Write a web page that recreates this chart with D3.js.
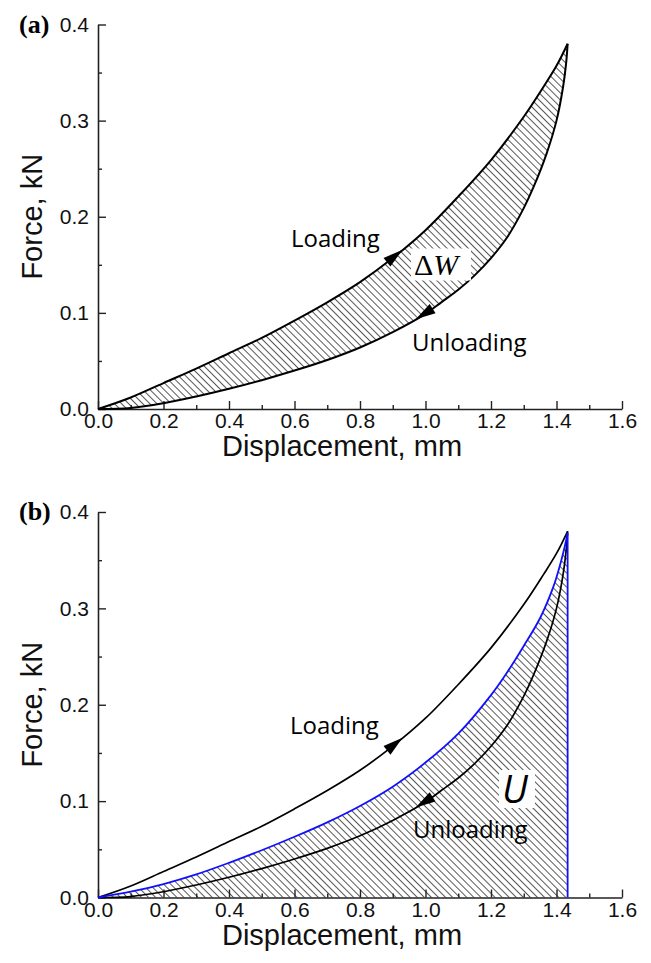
<!DOCTYPE html>
<html>
<head>
<meta charset="utf-8">
<script src="https://cdn.jsdelivr.net/npm/d3@7"></script>
<style>
  body { margin: 0; background: #fff; }
  svg { display: block; }
  .tick text { font-family: "Liberation Sans", Arial, sans-serif; font-size: 21px; fill: #111; }
</style>
</head>
<body>
<svg id="chart" width="651" height="963"></svg>
<script>
// Loading branch (displacement mm, force kN)
const loadX = [0, 0.1, 0.2, 0.3, 0.4, 0.5, 0.6, 0.7, 0.8, 0.9, 1.0, 1.1, 1.2, 1.3, 1.36, 1.4, 1.434];
const loadF = [0, 0.012, 0.027, 0.042, 0.058, 0.074, 0.092, 0.111, 0.132, 0.157, 0.186, 0.221, 0.259, 0.304, 0.335, 0.357, 0.38];

// Unloading branch, listed from low to high displacement
const unloadX = [0, 0.1, 0.2, 0.3, 0.4, 0.5, 0.6, 0.7, 0.8, 0.9, 1.0, 1.05, 1.1, 1.15, 1.2, 1.25, 1.3, 1.33, 1.37, 1.40, 1.42, 1.43, 1.434];
const unloadF = [0, 0.001, 0.006, 0.013, 0.021, 0.030, 0.040, 0.051, 0.064, 0.080, 0.099, 0.1115, 0.124, 0.139, 0.157, 0.179, 0.209, 0.231, 0.266, 0.30, 0.335, 0.362, 0.38];

// Elastic (recoverable) curve bounding the strain energy U
const elasticX = [0, 0.1, 0.2, 0.3, 0.4, 0.5, 0.6, 0.7, 0.8, 0.9, 1.0, 1.1, 1.2, 1.25, 1.3, 1.35, 1.39, 1.41, 1.425, 1.434];
const elasticF = [0, 0.006, 0.014, 0.024, 0.036, 0.049, 0.063, 0.078, 0.095, 0.115, 0.140, 0.170, 0.210, 0.234, 0.261, 0.29, 0.322, 0.344, 0.364, 0.378];

const xTicks = [0, 0.2, 0.4, 0.6, 0.8, 1.0, 1.2, 1.4, 1.6];
const xMinor = [0.1, 0.3, 0.5, 0.7, 0.9, 1.1, 1.3, 1.5];
const yTicks = [0, 0.1, 0.2, 0.3, 0.4];
const yMinor = [0.05, 0.15, 0.25, 0.35];
const panelTags = ["(a)", "(b)"];
const xTitle = "Displacement, mm";
const yTitle = "Force, kN";

const svg = d3.select("#chart");
const defs = svg.append("defs");

// diagonal "\" hatching
defs.append("pattern")
  .attr("id", "hatch")
  .attr("patternUnits", "userSpaceOnUse")
  .attr("width", 5).attr("height", 5)
  .attr("patternTransform", "rotate(-45)")
  .append("line")
  .attr("x1", 0.5).attr("y1", 0).attr("x2", 0.5).attr("y2", 5)
  .attr("stroke", "#3a3a3a").attr("stroke-width", 0.85);

const x = d3.scaleLinear().domain([0, 1.6]).range([98, 622]);

const pts = (xs, fs) => xs.map((d, i) => [d, fs[i]]);
const loading = pts(loadX, loadF);
const unloading = pts(unloadX, unloadF);
const elastic = pts(elasticX, elasticF);

function interp(xs, fs, v) {
  for (let i = 1; i < xs.length; i++) {
    if (v <= xs[i]) {
      const t = (v - xs[i - 1]) / (xs[i] - xs[i - 1]);
      return fs[i - 1] + t * (fs[i] - fs[i - 1]);
    }
  }
  return fs[fs.length - 1];
}

const sans = '"Open Sans", "Noto Sans", sans-serif';
const arial = '"Liberation Sans", Arial, sans-serif';
const serif = '"Liberation Serif", "Times New Roman", serif';

function drawPanel(y0, y4, tag, variant) {
  const y = d3.scaleLinear().domain([0, 0.4]).range([y0, y4]);
  const g = svg.append("g");
  const line = d3.line().x(d => x(d[0])).y(d => y(d[1])).curve(d3.curveCatmullRom.alpha(0.5));

  // hatched region
  if (variant === "a") {
    const rev = unloading.slice().reverse();
    const d = line(loading) + "L" + line(rev).slice(1) + "Z";
    g.append("path").attr("d", d).attr("fill", "url(#hatch)").attr("stroke", "none");
  } else {
    const last = elastic[elastic.length - 1];
    const d = line(elastic) + "L" + x(last[0]) + "," + y(0) + "L" + x(0) + "," + y(0) + "Z";
    g.append("path").attr("d", d).attr("fill", "url(#hatch)").attr("stroke", "none");
  }

  // axes
  const ax = g.append("g").attr("transform", `translate(0,${y0})`)
    .call(d3.axisBottom(x).tickValues(xTicks).tickFormat(d3.format(".1f"))
      .tickSizeInner(-8).tickSizeOuter(0).tickPadding(4));
  g.append("g").attr("transform", `translate(0,${y0})`)
    .call(d3.axisBottom(x).tickValues(xMinor).tickFormat("").tickSizeInner(-4).tickSizeOuter(0))
    .select(".domain").remove();
  g.append("g").attr("transform", `translate(${x(0)},0)`)
    .call(d3.axisLeft(y).tickValues(yTicks).tickFormat(d3.format(".1f"))
      .tickSizeInner(-8).tickSizeOuter(0).tickPadding(9));
  g.append("g").attr("transform", `translate(${x(0)},0)`)
    .call(d3.axisLeft(y).tickValues(yMinor).tickFormat("").tickSizeInner(-4).tickSizeOuter(0))
    .select(".domain").remove();
  g.selectAll(".domain").attr("stroke", "#222").attr("stroke-width", 1.6);
  g.selectAll(".tick line").attr("stroke", "#222").attr("stroke-width", 1.4);
  ax.selectAll(".tick text").attr("dy", "0.72em");

  // curves
  const sw = variant === "a" ? 2 : 1.7;
  g.append("path").attr("d", line(loading)).attr("fill", "none").attr("stroke", "#000").attr("stroke-width", sw);
  g.append("path").attr("d", line(unloading)).attr("fill", "none").attr("stroke", "#000").attr("stroke-width", sw);
  if (variant === "b") {
    g.append("path").attr("d", line(elastic)).attr("fill", "none").attr("stroke", "#1010ff").attr("stroke-width", 1.8);
    const last = elastic[elastic.length - 1];
    g.append("line").attr("x1", x(last[0])).attr("x2", x(last[0]))
      .attr("y1", y(last[1])).attr("y2", y(0))
      .attr("stroke", "#1010ff").attr("stroke-width", 1.8);
  }

  // direction arrows
  function arrow(xs, fs, tipX, dir) {
    const px = x(tipX), py = y(interp(xs, fs, tipX));
    const bx = x(tipX - dir * 0.05), by = y(interp(xs, fs, tipX - dir * 0.05));
    const ang = Math.atan2(py - by, px - bx);
    const L = 20, W = 5.5;
    const cx = px - L * Math.cos(ang), cy = py - L * Math.sin(ang);
    const nx = -Math.sin(ang), ny = Math.cos(ang);
    g.append("path")
      .attr("d", `M${px},${py}L${cx + W * nx},${cy + W * ny}L${cx - W * nx},${cy - W * ny}Z`)
      .attr("fill", "#000");
  }
  arrow(loadX, loadF, 0.93, 1);
  arrow(unloadX, unloadF, 0.97, -1);

  // annotations
  if (variant === "a") {
    g.append("text").attr("x", 291).attr("y", y(0.4) + 222).attr("font-family", sans).attr("font-size", 24).text("Loading");
    g.append("rect").attr("x", 411).attr("y", y(0.4) + 224).attr("width", 60).attr("height", 32).attr("fill", "#fff");
    const t = g.append("text").attr("x", 414).attr("y", y(0.4) + 250)
      .attr("font-family", serif).attr("font-size", 30);
    t.append("tspan").text("\u0394");
    t.append("tspan").attr("font-style", "italic").text("W");
    g.append("text").attr("x", 412).attr("y", y(0.4) + 326).attr("font-family", sans).attr("font-size", 24).text("Unloading");
  } else {
    g.append("text").attr("x", 290).attr("y", y(0.4) + 222).attr("font-family", sans).attr("font-size", 24).text("Loading");
    g.append("rect").attr("x", 499).attr("y", y(0.4) + 258).attr("width", 36).attr("height", 38).attr("fill", "#fff");
    g.append("text").attr("x", 502).attr("y", y(0.4) + 291).attr("font-family", sans).attr("font-style", "italic").attr("font-size", 38).text("U");
    g.append("text").attr("x", 413).attr("y", y(0.4) + 326).attr("font-family", sans).attr("font-size", 24).text("Unloading");
  }

  // axis titles and panel tag
  g.append("text").attr("x", 342).attr("y", y0 + 47)
    .attr("text-anchor", "middle").attr("font-family", arial).attr("font-size", 29).attr("fill", "#111")
    .text(xTitle);
  g.append("text").attr("transform", `translate(42,${(y0 + y4) / 2}) rotate(-90)`)
    .attr("text-anchor", "middle").attr("font-family", arial).attr("font-size", 29).attr("fill", "#111")
    .text(yTitle);
  g.append("text").attr("x", 19).attr("y", y4 + 8)
    .attr("font-family", serif).attr("font-weight", "bold").attr("font-size", 26)
    .text(tag);
}

drawPanel(409, 24.5, panelTags[0], "a");
drawPanel(897.5, 512, panelTags[1], "b");
</script>
</body>
</html>
